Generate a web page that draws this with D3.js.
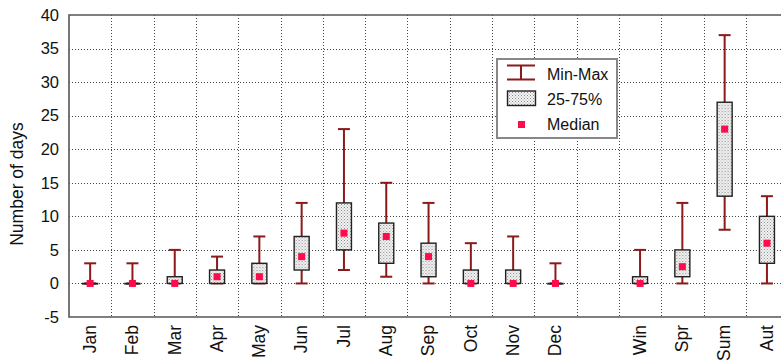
<!DOCTYPE html>
<html>
<head>
<meta charset="utf-8">
<script src="https://cdn.jsdelivr.net/npm/d3@7"></script>
<style>
  body { margin: 0; background: #fff; }
  svg { display: block; font-family: Arial, 'Liberation Sans', sans-serif; }
</style>
</head>
<body>
<div id="chart"></div>
<script>
// Number of days per month / season (box plot stats)
const months = ['Jan', 'Feb', 'Mar', 'Apr', 'May', 'Jun', 'Jul', 'Aug', 'Sep', 'Oct', 'Nov', 'Dec'];
const seasons = ['Win', 'Spr', 'Sum', 'Aut'];
const categories = months.concat(seasons);
const mins    = [0, 0, 0, 0, 0, 0, 2, 1, 0, 0, 0, 0, 0, 0, 8, 0];
const q1s     = [0, 0, 0, 0, 0, 2, 5, 3, 1, 0, 0, 0, 0, 1, 13, 3];
const medians = [0, 0, 0, 1, 1, 4, 7.5, 7, 4, 0, 0, 0, 0, 2.5, 23, 6];
const q3s     = [0, 0, 1, 2, 3, 7, 12, 9, 6, 2, 2, 0, 1, 5, 27, 10];
const maxs    = [3, 3, 5, 4, 7, 12, 23, 15, 12, 6, 7, 3, 5, 12, 37, 13];
const yTicks  = [-5, 0, 5, 10, 15, 20, 25, 30, 35, 40];
const legendLabels = ['Min-Max', '25-75%', 'Median'];

const data = categories.map((c, i) => ({
  cat: c, min: mins[i], q1: q1s[i], med: medians[i], q3: q3s[i], max: maxs[i]
}));

const width = 781, height = 360;
const margin = { top: 15, left: 69, bottom: 43 };
const whiskerColor = '#8b1a1a';
const medianColor = '#ff0a4a';

// one empty slot between the months and the seasons
const slots = months.concat(['_gap'], seasons);

const x = d3.scaleBand()
  .domain(slots)
  .range([margin.left, margin.left + 17 * 42.3]);

const y = d3.scaleLinear()
  .domain([-5, 40])
  .range([height - margin.bottom, margin.top]);

const svg = d3.select('#chart').append('svg')
  .attr('width', width)
  .attr('height', height);

// stipple pattern for the boxes
const pat = svg.append('defs').append('pattern')
  .attr('id', 'stipple')
  .attr('patternUnits', 'userSpaceOnUse')
  .attr('width', 3)
  .attr('height', 3);
pat.append('rect').attr('width', 3).attr('height', 3).attr('fill', '#f4f4f4');
pat.append('rect').attr('x', 0).attr('y', 0).attr('width', 1).attr('height', 1).attr('fill', '#8a8a8a');
pat.append('rect').attr('x', 1.5).attr('y', 1.5).attr('width', 1).attr('height', 1).attr('fill', '#a0a0a0');

const plotRight = x.range()[1];
const plotBottom = y(-5);

// grid
const grid = svg.append('g').attr('stroke', '#444').attr('stroke-width', 1).attr('stroke-dasharray', '1,2');
grid.selectAll('line.h')
  .data(yTicks.filter(t => t > -5 && t < 40))
  .enter().append('line')
  .attr('x1', margin.left).attr('x2', plotRight)
  .attr('y1', d => Math.round(y(d)) + 0.5).attr('y2', d => Math.round(y(d)) + 0.5);
grid.selectAll('line.v')
  .data(slots.slice(1))
  .enter().append('line')
  .attr('x1', d => Math.round(x(d)) + 0.5).attr('x2', d => Math.round(x(d)) + 0.5)
  .attr('y1', margin.top).attr('y2', plotBottom);

// y axis labels
const yAxis = svg.append('g')
  .attr('transform', 'translate(' + margin.left + ',0)')
  .call(d3.axisLeft(y).tickValues(yTicks).tickSize(0).tickPadding(10).tickFormat(d => String(d)));
yAxis.select('.domain').remove();
yAxis.selectAll('text').attr('font-size', 16.5).attr('fill', '#111').attr('font-family', 'Arial, Liberation Sans, sans-serif');

// x axis labels (rotated)
const xAxis = svg.append('g')
  .attr('transform', 'translate(0,' + plotBottom + ')')
  .call(d3.axisBottom(x).tickSize(0).tickFormat(d => d === '_gap' ? '' : d));
xAxis.select('.domain').remove();
xAxis.selectAll('text')
  .attr('font-size', 17.5)
  .attr('fill', '#111')
  .attr('font-family', 'Arial, Liberation Sans, sans-serif')
  .attr('transform', 'rotate(-90)')
  .attr('text-anchor', 'end')
  .attr('dy', '0.33em')
  .attr('x', -8)
  .attr('y', 0);

// y title
svg.append('text')
  .attr('transform', 'translate(23,184) rotate(-90)')
  .attr('text-anchor', 'middle')
  .attr('font-size', 17.5)
  .attr('fill', '#111')
  .text('Number of days');

// frame
svg.append('path')
  .attr('d', 'M' + plotRight + ',' + margin.top + 'H' + margin.left + 'V' + plotBottom + 'H' + plotRight)
  .attr('fill', 'none')
  .attr('stroke', '#555')
  .attr('stroke-width', 1.6);

// boxes
const bw = x.bandwidth();
const boxes = svg.append('g').selectAll('g')
  .data(data)
  .enter().append('g')
  .attr('transform', d => 'translate(' + (x(d.cat) + bw / 2) + ',0)');

boxes.append('line')
  .attr('x1', 0).attr('x2', 0)
  .attr('y1', d => y(d.min)).attr('y2', d => y(d.max))
  .attr('stroke', whiskerColor).attr('stroke-width', 2);
boxes.append('line')
  .attr('x1', -6).attr('x2', 6)
  .attr('y1', d => y(d.max)).attr('y2', d => y(d.max))
  .attr('stroke', whiskerColor).attr('stroke-width', 2);
boxes.append('line')
  .attr('x1', -6).attr('x2', 6)
  .attr('y1', d => y(d.min)).attr('y2', d => y(d.min))
  .attr('stroke', whiskerColor).attr('stroke-width', 2);

boxes.append('rect')
  .attr('x', -7.5).attr('width', 15)
  .attr('y', d => y(d.q3))
  .attr('height', d => Math.max(y(d.q1) - y(d.q3), 0.5))
  .attr('fill', 'url(#stipple)')
  .attr('stroke', '#222')
  .attr('stroke-width', 1.4);

boxes.append('rect')
  .attr('x', -3.5).attr('width', 7)
  .attr('y', d => y(d.med) - 3.5).attr('height', 7)
  .attr('fill', medianColor);

// legend
const lg = svg.append('g').attr('transform', 'translate(497,59)');
lg.append('rect')
  .attr('width', 120).attr('height', 79)
  .attr('fill', '#fff').attr('stroke', '#888').attr('stroke-width', 2);
lg.append('path')
  .attr('d', 'M10,6.5H38M10,20.5H38M24,6.5V20.5')
  .attr('fill', 'none').attr('stroke', whiskerColor).attr('stroke-width', 2);
lg.append('rect')
  .attr('x', 10.5).attr('y', 32).attr('width', 28).attr('height', 14.5)
  .attr('fill', 'url(#stipple)').attr('stroke', '#222').attr('stroke-width', 1.4);
lg.append('rect')
  .attr('x', 21).attr('y', 62).attr('width', 7).attr('height', 7)
  .attr('fill', medianColor);
lg.selectAll('text.lab')
  .data(legendLabels)
  .enter().append('text')
  .attr('x', 50)
  .attr('y', (d, i) => 21 + i * 25)
  .attr('font-size', 16)
  .attr('fill', '#111')
  .text(d => d);
</script>
</body>
</html>
